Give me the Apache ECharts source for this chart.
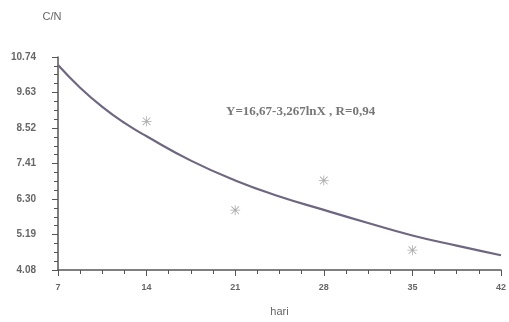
<!DOCTYPE html>
<html>
<head>
<meta charset="utf-8">
<script src="https://cdn.jsdelivr.net/npm/echarts@6/dist/echarts.min.js"></script>
<style>
  html, body { margin: 0; padding: 0; background: #fff; }
  #chart { width: 509px; height: 322px; }
</style>
</head>
<body>
<div id="chart"></div>
<script>
// titik pengamatan (hari, C/N)
const obsDays = [14, 21, 28, 35]
const obsCN = [8.73, 5.95, 6.88, 4.70]

// kurva regresi
const fitDays = [7, 8.75, 10.5, 12.25, 14, 17.5, 21, 24.5, 28, 31.5, 35, 38.5, 42]
const fitCN = [10.49, 9.78, 9.18, 8.68, 8.26, 7.50, 6.88, 6.38, 5.96, 5.55, 5.16, 4.84, 4.54]

const yTicks = ['4.08', '5.19', '6.30', '7.41', '8.52', '9.63', '10.74']
const equation = 'Y=16,67-3,267lnX , R=0,94'

// bintang (asterisk) dari batang tipis
const starPath = 'path://M4.6 0H5.4V10H4.6Z M0 4.6H10V5.4H0Z ' +
  'M0.9 1.5L1.5 0.9L9.1 8.5L8.5 9.1Z M8.5 0.9L9.1 1.5L1.5 9.1L0.9 8.5Z'

const axisColor = '#555'
const labelStyle = {
  color: '#666',
  fontFamily: 'Liberation Sans, Arial, sans-serif',
  fontSize: 10,
  fontWeight: 'bold'
}

const chart = echarts.init(document.getElementById('chart'))

chart.setOption({
  animation: false,
  grid: { left: 58, right: 4, top: 57, bottom: 49 },
  xAxis: {
    type: 'value',
    min: 7,
    max: 42,
    interval: 7,
    name: 'hari',
    nameLocation: 'middle',
    nameGap: 36,
    nameTextStyle: { color: '#666', fontFamily: 'Liberation Sans, Arial, sans-serif', fontSize: 11 },
    axisLine: { lineStyle: { color: axisColor, width: 1.5 } },
    axisTick: { length: 6, lineStyle: { color: axisColor } },
    minorTick: { show: true, splitNumber: 4, length: 4, lineStyle: { color: axisColor } },
    splitLine: { show: false },
    axisLabel: { ...labelStyle, fontSize: 9, margin: 13 }
  },
  yAxis: {
    type: 'value',
    min: 4.08,
    max: 10.74,
    interval: 1.11,
    name: 'C/N',
    nameLocation: 'end',
    nameGap: 35,
    nameTextStyle: { color: '#666', fontFamily: 'Liberation Sans, Arial, sans-serif', fontSize: 11, padding: [0, 12, 0, 0] },
    axisLine: { show: true, lineStyle: { color: axisColor, width: 1.5 } },
    axisTick: { show: true, length: 6, lineStyle: { color: axisColor } },
    minorTick: { show: true, splitNumber: 4, length: 4, lineStyle: { color: axisColor } },
    splitLine: { show: false },
    axisLabel: {
      ...labelStyle,
      margin: 22,
      formatter: (v) => {
        const i = Math.round((v - 4.08) / 1.11)
        return yTicks[i] || ''
      }
    }
  },
  graphic: [{
    type: 'text',
    left: 226,
    top: 105,
    style: {
      text: equation,
      fill: '#777',
      font: 'bold 13px "Liberation Serif", "Times New Roman", serif'
    }
  }],
  series: [
    {
      name: 'regresi',
      type: 'line',
      smooth: true,
      showSymbol: false,
      data: fitDays.map((d, i) => [d, fitCN[i]]),
      lineStyle: { color: '#6f6780', width: 2.2 }
    },
    {
      name: 'data',
      type: 'scatter',
      symbol: starPath,
      symbolSize: 10,
      data: obsDays.map((d, i) => [d, obsCN[i]]),
      itemStyle: { color: '#999' }
    }
  ]
})
</script>
</body>
</html>
